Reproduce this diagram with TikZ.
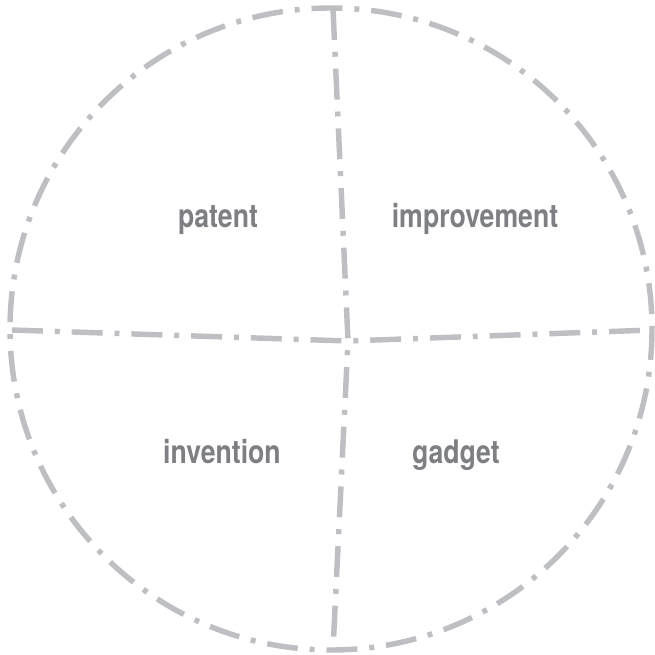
\documentclass[tikz,border=0pt]{standalone}
\usepackage{fontspec}
\setsansfont[FakeStretch=0.82]{TeX Gyre Heros}
\usepackage{tikz}

\definecolor{rimgray}{RGB}{190,191,195}
\definecolor{wordgray}{RGB}{125,127,131}

\tikzset{
    rim/.style={rimgray, line width=3.1pt,
        dash pattern=on 17.6pt off 6.8pt on 2.8pt off 6.8pt},
    word/.style={wordgray, anchor=base,
        font=\sffamily\bfseries\fontsize{18.5}{18.5}\selectfont}
}

\begin{document}
\begin{tikzpicture}[x=0.02cm,y=-0.02cm]
    \useasboundingbox (0,0) rectangle (654,655);

    \coordinate (o) at (348,341);

    \coordinate (top) at (333,9);
    \coordinate (bottom) at (333,650);
    \coordinate (left) at (12,330);
    \coordinate (right) at (652,330);

    % outer ring
    \draw [rim] (331,329) circle [radius=321];

    % the cross
    \draw [rim] (top) -- (o) -- (bottom);
    \draw [rim] (left) -- (o) -- (right);

    \node [word] (patent) at (218,227) {patent};
    \node [word] (improvement) at (475,227) {improvement};
    \node [word] (invention) at (222,463) {invention};
    \node [word] (gadget) at (456,463) {gadget};

\end{tikzpicture}
\end{document}
